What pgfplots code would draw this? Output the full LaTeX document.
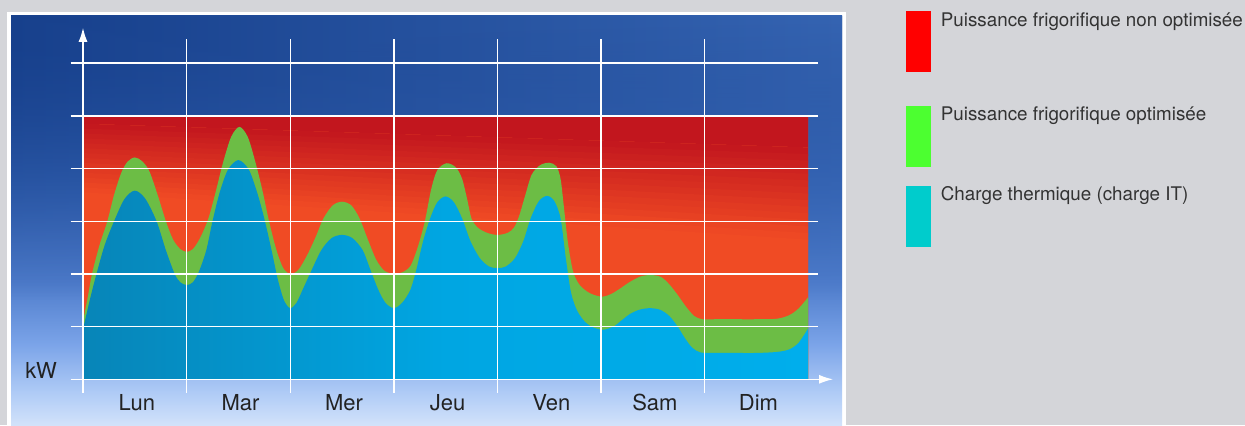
\documentclass[border=0pt]{standalone}
\usepackage{pgfplots}
\pgfplotsset{compat=1.18}
\usetikzlibrary{arrows.meta,fadings}
\usepackage{fontspec}
\setmainfont{TeX Gyre Heros}
\definecolor{bgGrey}{HTML}{D4D5D9}
\definecolor{pTop}{HTML}{17408C}
\definecolor{pTopR}{HTML}{3564B2}
\definecolor{pB5}{HTML}{3463B3}
\definecolor{pB4}{HTML}{4E7CCB}
\definecolor{pB3}{HTML}{7AA3E8}
\definecolor{pB2}{HTML}{AFCBF6}
\definecolor{pBot}{HTML}{D2E2FA}
\definecolor{redDark}{HTML}{C2161E}
\definecolor{redOrange}{HTML}{F04B24}
\definecolor{greenBand}{HTML}{6CBD45}
\definecolor{blueL}{HTML}{0785B8}
\definecolor{blueM}{HTML}{00A6E2}
\definecolor{blueR}{HTML}{00AEEC}
\definecolor{legRed}{HTML}{FF0000}
\definecolor{legGreen}{HTML}{4CFF30}
\definecolor{legCyan}{HTML}{00CCCC}
\definecolor{txt}{HTML}{222222}
\definecolor{legTxt}{HTML}{333333}
\pgfdeclareverticalshading{panelshade}{100bp}{color(0bp)=(pBot); color(25bp)=(pBot); color(29bp)=(pB2); color(35bp)=(pB3); color(42.5bp)=(pB4); color(55bp)=(pB5); color(75bp)=(pTop); color(100bp)=(pTop)}
\tikzfading[name=fadeTop, top color=transparent!0, bottom color=transparent!100]
\foreach \k in {0,...,13}{\pgfmathtruncatemacro\p{96-7*\k}\xglobal\colorlet{strip\k}{redDark!\p!redOrange}}

\pgfplotstableread{
x y
0 0.95
0.065 1.5
0.13 2.0
0.21 2.55
0.30 3.0
0.40 3.42
0.5 3.58
0.60 3.43
0.71 3.0
0.80 2.45
0.885 2.0
0.94 1.84
1.0 1.79
1.06 1.84
1.12 2.05
1.19 2.45
1.25 3.0
1.32 3.55
1.40 3.98
1.5 4.16
1.60 3.98
1.68 3.55
1.75 3.05
1.82 2.45
1.88 1.9
1.94 1.5
2.0 1.35
2.06 1.45
2.12 1.7
2.19 2.0
2.3 2.45
2.4 2.68
2.5 2.74
2.6 2.68
2.7 2.45
2.77 2.1
2.85 1.7
2.92 1.45
3.0 1.35
3.08 1.45
3.16 1.7
3.22 2.1
3.28 2.6
3.35 3.05
3.42 3.36
3.5 3.47
3.58 3.36
3.66 3.05
3.74 2.62
3.83 2.3
3.92 2.14
4.0 2.11
4.08 2.14
4.17 2.3
4.25 2.62
4.32 3.05
4.4 3.38
4.48 3.48
4.55 3.38
4.61 3.05
4.66 2.3
4.71 1.65
4.77 1.3
4.85 1.08
4.93 0.98
5.02 0.94
5.12 1.0
5.2 1.12
5.28 1.24
5.37 1.32
5.47 1.35
5.57 1.32
5.66 1.2
5.74 1.0
5.81 0.78
5.88 0.6
5.96 0.51
6.1 0.5
6.3 0.5
6.5 0.5
6.7 0.52
6.82 0.57
6.91 0.7
7.0 0.97
}\blueTbl

\pgfplotstableread{
x y
0 1.1
0.045 1.55
0.087 2.0
0.16 2.55
0.235 3.0
0.30 3.5
0.37 3.92
0.43 4.13
0.5 4.21
0.57 4.14
0.64 3.95
0.72 3.5
0.80 3.0
0.87 2.65
0.94 2.47
1.0 2.42
1.06 2.47
1.13 2.68
1.21 3.05
1.28 3.55
1.35 4.1
1.43 4.6
1.51 4.79
1.59 4.6
1.66 4.15
1.73 3.6
1.79 3.05
1.86 2.5
1.93 2.12
2.0 2.0
2.08 2.08
2.17 2.38
2.25 2.72
2.32 3.05
2.41 3.3
2.5 3.37
2.59 3.3
2.67 3.05
2.75 2.65
2.83 2.27
2.91 2.06
3.0 2.0
3.08 2.03
3.16 2.15
3.23 2.5
3.3 3.0
3.36 3.6
3.42 3.97
3.51 4.10
3.6 4.02
3.66 3.8
3.71 3.4
3.75 3.05
3.81 2.88
3.9 2.78
4.0 2.74
4.1 2.78
4.16 2.88
4.21 3.1
4.27 3.5
4.33 3.88
4.41 4.06
4.5 4.11
4.57 4.04
4.61 3.8
4.64 3.3
4.68 2.6
4.73 2.05
4.79 1.8
4.87 1.66
4.95 1.59
5.02 1.57
5.1 1.62
5.19 1.73
5.28 1.85
5.38 1.95
5.48 1.98
5.58 1.94
5.66 1.8
5.74 1.6
5.82 1.38
5.9 1.2
5.98 1.14
6.1 1.14
6.3 1.14
6.5 1.14
6.7 1.15
6.82 1.22
6.91 1.35
7.0 1.56
}\greenTbl

\begin{document}
\begin{tikzpicture}
\useasboundingbox (0,0) rectangle (622.5pt,-212.5pt);
\begin{scope}[x=0.5pt,y=-0.5pt]
  \fill[bgGrey] (0,0) rectangle (1245,425);
  \fill[white] (7,12) rectangle (846,425);
  \shade[shading=panelshade] (11,16) rectangle (842,425);
  \shade[left color=pTop, right color=pTopR, path fading=fadeTop, fit fading=true] (11,16) rectangle (842,300);
\end{scope}
\begin{axis}[
  x=51.8pt, y=26.35pt,
  xmin=0, xmax=7, ymin=0, ymax=6.7,
  enlargelimits=false,
  at={(41.5pt,-189.65pt)}, anchor=south west,
  axis line style={draw=none},
  clip=false,
  major tick length=0pt,
  ytick=\empty,
  xtick={0.52,1.52,2.52,3.52,4.52,5.52,6.52},
  xticklabels={Lun,Mar,Mer,Jeu,Ven,Sam,Dim},
  xticklabel style={anchor=base, yshift=-15.7pt, font=\fontsize{11}{13}\selectfont, text=txt},
]
  % red area (non optimised)
  \addplot[draw=none, fill=redOrange] coordinates {(0,0) (0,5) (7,5) (7,0)} \closedcycle;
  \addplot[draw=none, fill=redDark] coordinates {(0,4.85) (0,5) (7,5) (7,4.4)} -- cycle;
  \pgfplotsinvokeforeach{0,...,13}{
    \fill[strip#1] (axis cs:0,{4.85-#1*0.092857}) -- (axis cs:7,{4.4-#1*0.125})
      -- (axis cs:7,{4.4-(#1+1.3)*0.125}) -- (axis cs:0,{4.85-(#1+1.3)*0.092857}) -- cycle;
  }
  \addplot[draw=none, fill=redOrange] coordinates {(0,0) (0,3.55) (7,2.65) (7,0)} -- cycle;
  % green (optimised)
  \addplot[draw=none, fill=greenBand, smooth, tension=0.5] table {\greenTbl} \closedcycle;
  % blue (thermal load)
  \addplot[draw=none, left color=blueL, right color=blueR, middle color=blueM, smooth, tension=0.5] table {\blueTbl} \closedcycle;
  % grid
  \pgfplotsinvokeforeach{1,...,6}{
    \draw[white, line width=0.7pt] (axis cs:-0.12,#1) -- (axis cs:7.09,#1);
    \draw[white, line width=0.7pt] (axis cs:#1,-0.26) -- (axis cs:#1,6.45);
  }
  \draw[white, line width=0.7pt, -{Latex[length=7pt,width=4.5pt]}] (axis cs:-0.12,0) -- (axis cs:7.24,0);
  \draw[white, line width=0.7pt, -{Latex[length=7pt,width=4.5pt]}] (axis cs:0,-0.26) -- (axis cs:0,6.67);
  \node[anchor=base west, inner sep=0pt, text=txt, font=\fontsize{11}{13}\selectfont] at (axis cs:-0.56,0.02) {kW};
\end{axis}
\begin{scope}[x=0.5pt,y=-0.5pt]
  \fill[legRed] (906,11) rectangle (931,72);
  \fill[legGreen] (906,106) rectangle (931,167);
  \fill[legCyan] (906,186) rectangle (931,247);
  \begin{scope}[every node/.style={anchor=base west, inner sep=0pt, text=legTxt, font=\fontsize{9.4}{11}\selectfont}]
    \node at (940.5,26) {Puissance frigorifique non optimisée};
    \node at (940.5,120) {Puissance frigorifique optimisée};
    \node at (940.5,200) {Charge thermique (charge IT)};
  \end{scope}
\end{scope}
\end{tikzpicture}
\end{document}
